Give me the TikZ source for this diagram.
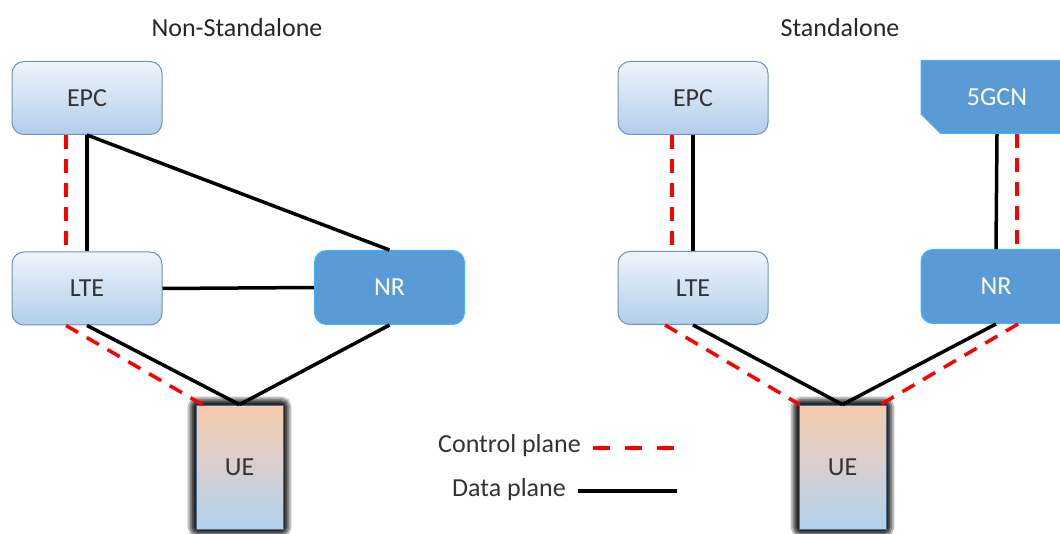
\documentclass[tikz,border=0pt]{standalone}
\usepackage{fontspec}
\setmainfont{Carlito}
\usetikzlibrary{shapes.misc,calc,backgrounds}
\definecolor{lbtop}{HTML}{EEF4FB}
\definecolor{lbbot}{HTML}{B2CEEA}
\definecolor{lbline}{HTML}{6E93BE}
\definecolor{nrfill}{HTML}{5B9BD5}
\definecolor{nrline}{HTML}{3FB6F2}
\definecolor{uetop}{HTML}{F6CBAB}
\definecolor{uemid}{HTML}{D8CFD0}
\definecolor{uebot}{HTML}{B0D1EE}
\definecolor{ueline}{HTML}{4E6E8E}
\definecolor{txt}{HTML}{333333}
\begin{document}
\begin{tikzpicture}[x=1pt,y=-1pt,
  lbl/.style={font=\fontsize{26}{30}\selectfont, inner sep=0pt},
  lightbox/.style={lbl, rectangle, rounded corners=12pt, minimum width=150pt,
    minimum height=73pt, top color=lbtop, bottom color=lbbot, draw=lbline,
    line width=1pt, text=txt},
  darkbox/.style={lbl, rectangle, rounded corners=12pt, minimum width=150pt,
    minimum height=74pt, fill=nrfill, draw=nrline, line width=1pt, text=white},
  corebox/.style={lbl, chamfered rectangle, chamfered rectangle corners=south west,
    chamfered rectangle xsep=11pt, chamfered rectangle ysep=11pt,
    minimum width=152pt, minimum height=73pt, fill=nrfill, draw=nrline,
    line width=1pt, text=white},
  uebox/.style={lbl, rectangle, minimum width=87pt, minimum height=124pt,
    top color=uetop, bottom color=uebot, middle color=uemid, draw=ueline,
    line width=0.8pt, text=txt},
  title/.style={lbl, text=black!85},
  dataline/.style={line width=3.5pt, black},
  ctrlline/.style={line width=3.5pt, red, dash pattern=on 14pt off 10pt},
]
\clip (0,0) rectangle (1060,534);

% ---------- Non-Standalone ----------
\node[title] (t1) at (237,28) {Non-Standalone};
\node[lightbox] (epc1) at (87,98) {EPC};
\node[lightbox] (lte1) at (87,288.5) {LTE};
\node[darkbox] (nr1) at (389.5,287.5) {NR};
\node[uebox] (ue1) at (239.5,467) {UE};

% ---------- Standalone ----------
\node[title] (t2) at (840,28) {Standalone};
\node[lightbox] (epc2) at (693,98) {EPC};
\node[corebox] (gcn) at (997,97) {5GCN};
\node[lightbox] (lte2) at (693,288) {LTE};
\node[darkbox] (nr2) at (996,286.5) {NR};
\node[uebox] (ue2) at (842.5,467) {UE};

% soft dark frame round the UE boxes
\begin{scope}[on background layer]
  \foreach \u in {ue1,ue2}
    \foreach \w/\o in {16/0.25,12/0.3,8/0.4,4/0.5}
      \draw[black, line width=\w pt, opacity=\o, rounded corners=3pt]
        (\u.north west) rectangle (\u.south east);
\end{scope}

% ---------- connectors, Non-Standalone ----------
\draw[ctrlline] ($(epc1.south)+(-21,0)$) -- ($(lte1.north)+(-21,0)$);
\draw[dataline] (epc1.south) -- (lte1.north);
\draw[dataline] (epc1.south) -- (nr1.north);
\draw[dataline] (lte1.east) -- (nr1.west);
\draw[ctrlline] ($(lte1.south)+(-21,0)$) -- ($(ue1.north west)+(12,3)$);
\draw[dataline] (lte1.south) -- (ue1.north);
\draw[dataline] (nr1.south) -- (ue1.north);

% ---------- connectors, Standalone ----------
\draw[ctrlline] ($(epc2.south)+(-21,0)$) -- ($(lte2.north)+(-21,0)$);
\draw[dataline] (epc2.south) -- (lte2.north);
\draw[dataline] (gcn.south) -- (nr2.north);
\draw[ctrlline] ($(gcn.south)+(20,0)$) -- ($(nr2.north)+(21,0)$);
\draw[ctrlline] ($(lte2.south)+(-28,0)$) -- ($(ue2.north west)+(1,0)$);
\draw[dataline] (lte2.south) -- (ue2.north);
\draw[dataline] (nr2.south) -- (ue2.north);
\draw[ctrlline] ($(nr2.south)+(22,0)$) -- ($(ue2.north east)+(-6,0)$);

% ---------- legend ----------
\node[lbl, anchor=east, text=txt] (cpl) at (581,446) {Control plane};
\node[lbl, anchor=east, text=txt] (dpl) at (566,490) {Data plane};
\coordinate (cp1) at (593,448);
\coordinate (cp2) at (675,448);
\coordinate (dp1) at (578,491);
\coordinate (dp2) at (677,491);
\draw[line width=3.5pt, red, dash pattern=on 17pt off 15pt] (cp1) -- (cp2);
\draw[dataline] (dp1) -- (dp2);
\end{tikzpicture}
\end{document}
